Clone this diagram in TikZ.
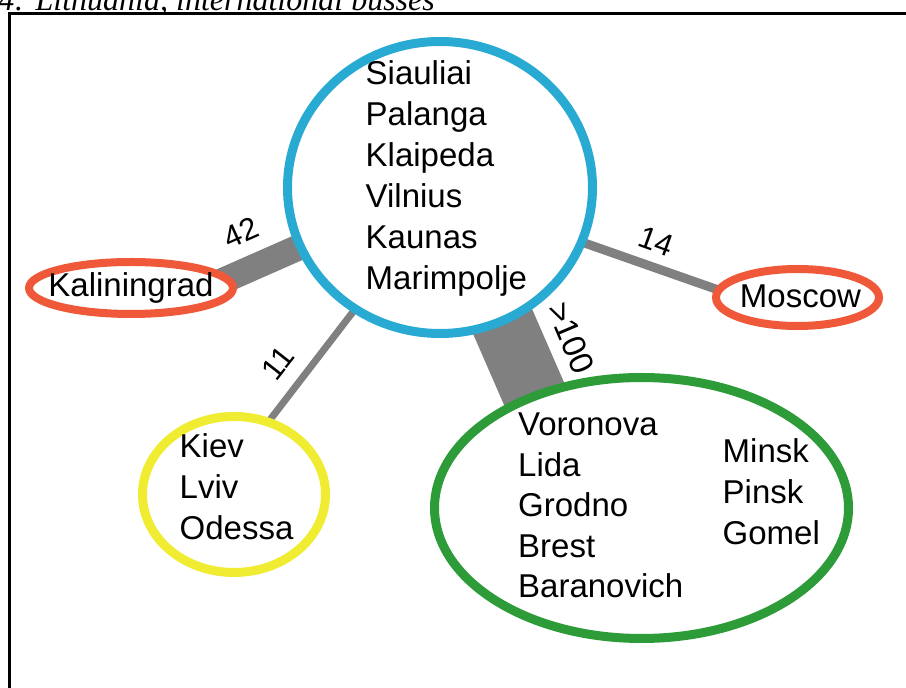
\documentclass[tikz,border=0pt]{standalone}
\usepackage{fontspec}
\setmainfont{Liberation Sans}
\newfontfamily\capfont{Liberation Serif}
\usepackage{tikz}
\usetikzlibrary{shapes.geometric,backgrounds}

\definecolor{ringblue}{RGB}{40,170,210}
\definecolor{ringred}{RGB}{240,88,58}
\definecolor{ringyellow}{RGB}{240,236,50}
\definecolor{ringgreen}{RGB}{44,155,56}
\definecolor{bargray}{RGB}{128,128,128}

\begin{document}
\begin{tikzpicture}[x=1pt,y=1pt]
    \useasboundingbox (0,0) rectangle (906,688);
    %%%%% THE FRAME
    \draw[line width=3pt] (9.5,-20) |- (930,674.5);
    \node[anchor=base east,inner sep=0pt,font=\capfont\itshape\fontsize{32}{32}\selectfont]
      (CAPTION) at (435,677) {Figure 4: Lithuania, international busses};
    %%%%% THE RINGS
    \begin{scope}[every node/.style={ellipse,draw,fill=white,inner sep=0pt}]
      \node[draw=ringblue,line width=9pt,minimum width=305pt,minimum height=292pt] (LITH) at (440,500.5) {};
      \node[draw=ringred,line width=8pt,minimum width=204pt,minimum height=52pt] (KALI) at (131,400) {};
      \node[draw=ringred,line width=8pt,minimum width=163pt,minimum height=57pt] (MOSC) at (797.5,390.5) {};
      \node[draw=ringyellow,line width=9pt,minimum width=183pt,minimum height=156pt] (UKR) at (234,193.5) {};
      \node[draw=ringgreen,line width=9pt,minimum width=414pt,minimum height=261pt] (BLR) at (641.5,180) {};
    \end{scope}
    %%%%% THE CITY LISTS
    \begin{scope}[every node/.style={font=\fontsize{33}{41}\selectfont,align=left,inner sep=0pt,anchor=base west}]
      \node (LITH-T) at (365.5,398) {Siauliai\\Palanga\\Klaipeda\\Vilnius\\Kaunas\\Marimpolje};
      \node[anchor=center] (KALI-T) at (KALI) {Kaliningrad};
      \node[anchor=center,xshift=3pt,yshift=1pt] (MOSC-T) at (MOSC) {Moscow};
      \node (UKR-T) at (179.5,148) {Kiev\\Lviv\\Odessa};
      \node[font=\fontsize{33}{40.5}\selectfont] (BLR-T1) at (518,90) {Voronova\\Lida\\Grodno\\Brest\\Baranovich};
      \node (BLR-T2) at (722.5,143) {Minsk\\Pinsk\\Gomel};
    \end{scope}
    %%%%% THE BUS LINKS (behind the rings)
    \begin{scope}[on background layer,link/.style={draw=bargray,shorten <=-15pt,shorten >=-15pt}]
      \draw[link,line width=26pt] (KALI.6) -- (LITH.203);
      \draw[link,line width=9pt] (LITH.339.5) -- (MOSC.174);
      \draw[link,line width=7pt] (LITH.235.4) -- (UKR.64.4);
      \draw[link,line width=64pt] (LITH.295.4) -- (BLR.133);
    \end{scope}
    %%%%% THE COUNTS
    \begin{scope}[every node/.style={font=\fontsize{31}{31}\selectfont,inner sep=0pt}]
      \node[rotate=24] (N42) at (241,455) {42};
      \node[rotate=-20] (N14) at (656,447) {14};
      \node[rotate=52] (N11) at (278,325) {11};
      \node[font=\fontsize{33}{33}\selectfont,rotate=-67] (N100) at (571,350) {>100};
    \end{scope}
\end{tikzpicture}
\end{document}
